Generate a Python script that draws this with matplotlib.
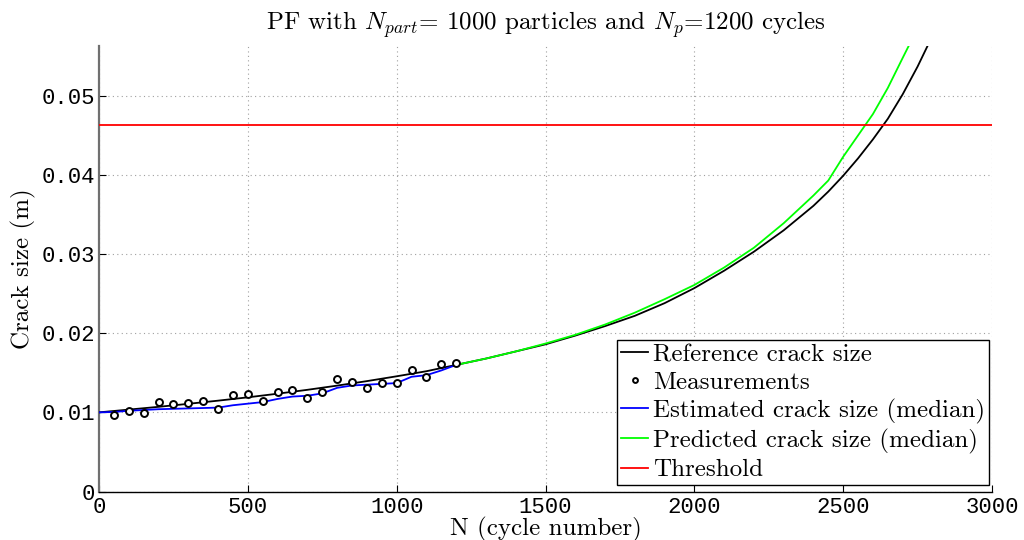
import matplotlib
matplotlib.use("Agg")
import matplotlib.pyplot as plt
import numpy as np

# ---- data ----
ref_cycles = [0, 100, 200, 300, 400, 500, 600, 700, 800, 900, 1000, 1100, 1200,
              1300, 1400, 1500, 1600, 1700, 1800, 1900, 2000, 2100, 2200, 2300,
              2400, 2450, 2500, 2550, 2600, 2650, 2700, 2750, 2800]
ref_size = [0.0100, 0.01035, 0.0107, 0.01108, 0.01148, 0.0119, 0.01236, 0.01285,
            0.01338, 0.01395, 0.01456, 0.0152, 0.0160, 0.0168, 0.0177, 0.0186,
            0.0197, 0.0209, 0.0222, 0.0238, 0.0257, 0.0279, 0.0303, 0.0330,
            0.0361, 0.0379, 0.0399, 0.0421, 0.0445, 0.0471, 0.0502, 0.0537, 0.0576]

meas_cycles = [50, 100, 150, 200, 250, 300, 350, 400, 450, 500, 550, 600, 650,
               700, 750, 800, 850, 900, 950, 1000, 1050, 1100, 1150, 1200]
meas_size = [0.00971, 0.01013, 0.00996, 0.01131, 0.01106, 0.01114, 0.01144,
             0.01038, 0.01215, 0.01233, 0.01144, 0.0126, 0.0128, 0.01183,
             0.0126, 0.01428, 0.01386, 0.01314, 0.01377, 0.01369, 0.01534,
             0.01449, 0.0161, 0.01627]

est_cycles = [0, 50, 100, 150, 200, 250, 300, 350, 400, 450, 500, 550, 600, 650,
              700, 750, 800, 850, 900, 950, 1000, 1050, 1100, 1150, 1200]
est_size = [0.0100, 0.01005, 0.0102, 0.0103, 0.0104, 0.01045, 0.0105, 0.01055,
            0.0106, 0.0109, 0.0111, 0.0113, 0.0117, 0.0120, 0.0121, 0.0124,
            0.0131, 0.0134, 0.0135, 0.0136, 0.0137, 0.0145, 0.0147, 0.0153, 0.0160]

pred_cycles = [1200, 1300, 1400, 1500, 1600, 1700, 1800, 1900, 2000, 2100, 2200,
               2300, 2400, 2450, 2500, 2550, 2600, 2650, 2700, 2720]
pred_size = [0.0160, 0.0168, 0.0177, 0.0187, 0.0198, 0.0211, 0.0226, 0.0243,
             0.0261, 0.0283, 0.0308, 0.0339, 0.0374, 0.0393, 0.0423, 0.0450,
             0.0477, 0.0510, 0.0548, 0.0563]

threshold = 0.0463

x_ticks = [0, 500, 1000, 1500, 2000, 2500, 3000]
x_tick_labels = ["0", "500", "1000", "1500", "2000", "2500", "3000"]
y_ticks = [0, 0.01, 0.02, 0.03, 0.04, 0.05]
y_tick_labels = ["0", "0.01", "0.02", "0.03", "0.04", "0.05"]

# ---- style ----
plt.rcParams['mathtext.fontset'] = 'cm'
serif = 'cmr10'
mono = 'Liberation Mono'
W, H = 1024, 540

fig = plt.figure(figsize=(10.24, 5.4), dpi=100)
ax = fig.add_axes([99/W, 1 - 491.5/H, (992-99)/W, (491.5-46)/H])

ax.plot(ref_cycles, ref_size, color='black', lw=1.3, label='Reference crack size', zorder=3)
ax.plot(meas_cycles, meas_size, linestyle='none', marker='o', ms=5, mfc='white',
        mec='black', mew=1.4, label='Measurements', zorder=4)
ax.plot(est_cycles, est_size, color='#0000ff', lw=1.3, label='Estimated crack size (median)', zorder=3)
ax.plot(pred_cycles, pred_size, color='#00ff00', lw=1.3, label='Predicted crack size (median)', zorder=3)
ax.axhline(threshold, color='#ff0000', lw=1.3, label='Threshold', zorder=3)

ax.set_xlim(0, 3000)
ax.set_ylim(0, 0.0563)
ax.set_xticks(x_ticks)
ax.set_xticklabels(x_tick_labels, fontfamily=mono, fontsize=16)
ax.set_yticks(y_ticks)
ax.set_yticklabels(y_tick_labels, fontfamily=mono, fontsize=16)
ax.tick_params(direction='in', length=5, width=0.8)
ax.tick_params(axis='x', pad=4)
ax.tick_params(axis='y', pad=3)

ax.grid(True, color='#a0a0a0', linestyle=(0, (1, 3)), linewidth=0.8)
ax.spines['top'].set_visible(False)
ax.spines['right'].set_visible(False)
ax.spines['left'].set_color('#707070')
ax.spines['left'].set_linewidth(1.6)
ax.spines['bottom'].set_linewidth(1.0)

ax.set_title(r"PF with $N_{part}$= 1000 particles and $N_p$=1200 cycles",
             fontfamily=serif, fontsize=18, pad=12)
ax.set_xlabel("N (cycle number)", fontfamily=serif, fontsize=18, labelpad=-1)
ax.set_ylabel("Crack size (m)", fontfamily=serif, fontsize=18, labelpad=4)

leg = ax.legend(loc='lower right', bbox_to_anchor=(989/W, 1 - 485/H),
                bbox_transform=fig.transFigure,
                prop={'family': serif, 'size': 18},
                frameon=True, fancybox=False, framealpha=1, edgecolor='black',
                handlelength=1.1, handletextpad=0.2, labelspacing=0.2,
                borderaxespad=0.0, borderpad=0.15, markerscale=0.7)
leg.get_frame().set_linewidth(1.0)

fig.savefig("out.png", dpi=100)
